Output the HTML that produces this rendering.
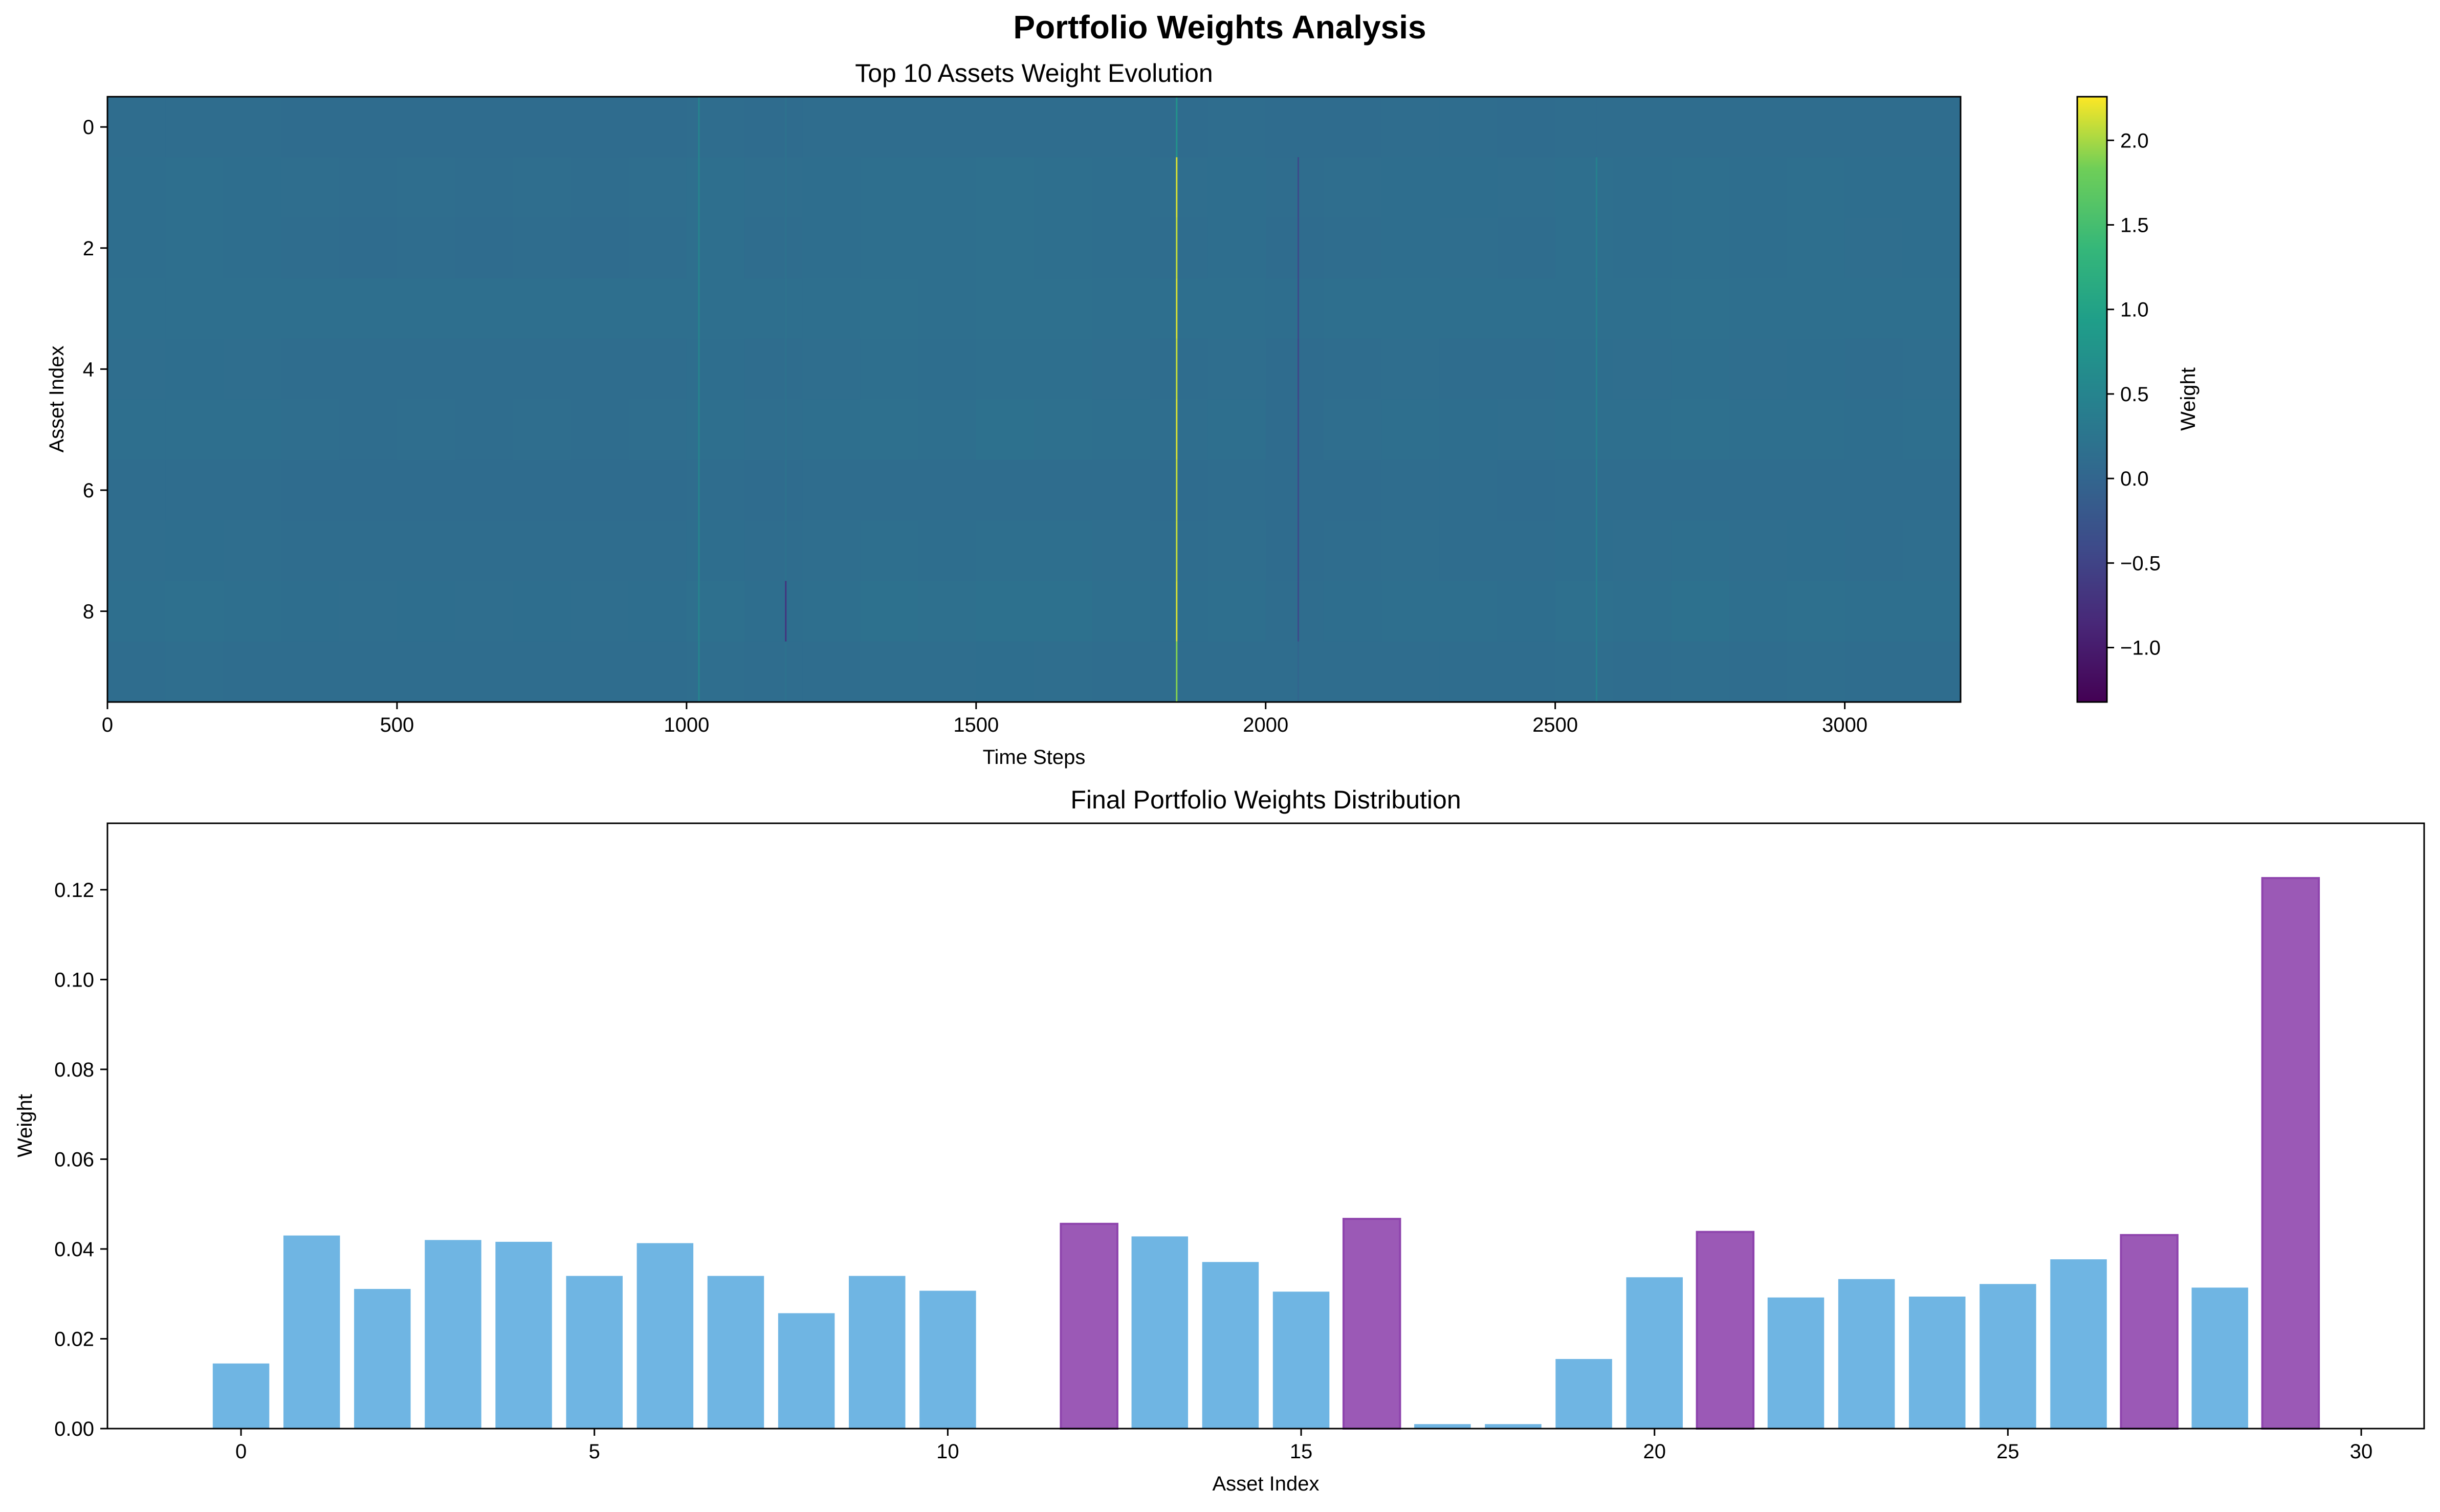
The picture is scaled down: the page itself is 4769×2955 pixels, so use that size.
<!DOCTYPE html>
<html><head><meta charset="utf-8"><style>
html,body{margin:0;padding:0;background:#fff;}
svg{display:block;font-family:"Liberation Sans",sans-serif;}
</style></head><body>
<svg id="fig" width="4769" height="2955" viewBox="0 0 4769 2955" xmlns="http://www.w3.org/2000/svg">
<defs><linearGradient id="vir" x1="0" y1="1" x2="0" y2="0">
<stop offset="0" stop-color="#440154"/><stop offset="0.13" stop-color="#482878"/><stop offset="0.25" stop-color="#3e4989"/><stop offset="0.38" stop-color="#31688e"/><stop offset="0.5" stop-color="#26828e"/><stop offset="0.63" stop-color="#1f9e89"/><stop offset="0.75" stop-color="#35b779"/><stop offset="0.88" stop-color="#6ece58"/><stop offset="1" stop-color="#fde725"/></linearGradient></defs>
<text x="2384" y="75" text-anchor="middle" font-size="64" font-weight="bold">Portfolio Weights Analysis</text>
<g id="topg"></g><g id="botg"></g>
</svg>
<script>
const NS="http://www.w3.org/2000/svg";
// ---- heatmap data ----
const nSteps=3200;
const rowBase=[0.11,0.13,0.12,0.15,0.12,0.13,0.11,0.12,0.14,0.12];
const blockOffsets=[0.02,0.03,0.02,0.0,-0.01,0.0,-0.01,0.0,-0.01,0.0,0.03,0.0,0.02,0.04,0.03,0.05,0.04,0.02,0.0,0.02,-0.02,0.0,0.02,0.01,0.0,0.03,0.02,0.04,0.02,0.03,0.01,0.02];
const spikeSteps=[1020,1170,1845,2055,2570];
const spikeVals=[
 [0.5,0.5,0.5,0.5,0.5,0.5,0.5,0.5,0.5,0.5],
 [0.2,0.2,0.2,0.2,0.2,0.2,0.2,0.2,-0.7,0.2],
 [0.75,2.15,2.1,2.15,2.1,2.15,2.1,2.1,2.15,1.9],
 [0.1,-0.4,-0.4,-0.4,-0.45,-0.4,-0.4,-0.4,-0.4,0.0],
 [0.1,0.45,0.45,0.45,0.45,0.45,0.45,0.45,0.45,0.45]];
const cbTicks=[-1.0,-0.5,0.0,0.5,1.0,1.5,2.0];
const xTicksTop=[0,500,1000,1500,2000,2500,3000];
// ---- bar data ----
const assets=[...Array(30).keys()];
const weights=[0.0145,0.0430,0.0311,0.0420,0.0416,0.0340,0.0413,0.0340,0.0257,0.0340,0.0307,0,0.0456,0.0428,0.0371,0.0305,0.0467,0.0010,0.0010,0.0155,0.0337,0.0438,0.0292,0.0333,0.0294,0.0322,0.0377,0.0431,0.0314,0.1226];
const highlighted=[12,16,21,27,29];
const yTicksBot=[0,0.02,0.04,0.06,0.08,0.10,0.12];
const xTicksBot=[0,5,10,15,20,25,30];

const vmin=-1.322,vmax=2.258;
const vs=[[68,1,84],[72,40,120],[62,73,137],[49,104,142],[38,130,142],[31,158,137],[53,183,121],[110,206,88],[253,231,37]];
const vo=[0,0.13,0.25,0.38,0.5,0.63,0.75,0.88,1];
function viridis(v){let t=Math.max(0,Math.min(1,(v-vmin)/(vmax-vmin)));
 for(let i=0;i<8;i++){if(t<=vo[i+1]){const f=(t-vo[i])/(vo[i+1]-vo[i]);const c=vs[i].map((a,k)=>Math.round(a+(vs[i+1][k]-a)*f));return `rgb(${c})`;}}return 'rgb(253,231,37)';}
function el(tag,attrs,parent,txt){const e=document.createElementNS(NS,tag);for(const k in attrs)e.setAttribute(k,attrs[k]);if(txt!==undefined)e.textContent=txt;parent.appendChild(e);return e;}

const gTop=document.getElementById('topg'),gBot=document.getElementById('botg');
const HX0=210,HX1=3832,HY0=189,HY1=1372;
const hx=t=>HX0+(t)/(nSteps)*(HX1-HX0);
const hy=r=>HY0+(r+0.5)/10*(HY1-HY0);
el('text',{x:2021,y:160,'text-anchor':'middle','font-size':50,},gTop,'Top 10 Assets Weight Evolution');
const blockW=100;
for(let r=0;r<10;r++){for(let b=0;b<blockOffsets.length;b++){
 const v=rowBase[r]+blockOffsets[b]*((r%3)+1)/3;
 const c=el('rect',{x:hx(b*blockW),y:hy(r-0.5),width:hx((b+1)*blockW)-hx(b*blockW)+0.6,height:hy(0.5)-hy(-0.5)+0.6,fill:viridis(v)},gTop);
 
 
}}
spikeSteps.forEach((s,i)=>{for(let r=0;r<10;r++){
 const c=el('rect',{x:hx(s),y:hy(r-0.5),width:Math.max(3,hx(s+1)-hx(s)),height:hy(0.5)-hy(-0.5),fill:viridis(spikeVals[i][r])},gTop);
 
 
}});
el('rect',{x:HX0,y:HY0,width:HX1-HX0,height:HY1-HY0,fill:'none',stroke:'#000','stroke-width':3,},gTop);
xTicksTop.forEach(t=>{const x=hx(t);
 el('line',{x1:x,x2:x,y1:HY1,y2:HY1+14,stroke:'#000','stroke-width':3},gTop);
 el('text',{x:x,y:HY1+58,'text-anchor':'middle','font-size':40,},gTop,String(t));});
for(let r=0;r<10;r+=2){const y=hy(r);
 el('line',{x1:HX0-14,x2:HX0,y1:y,y2:y,stroke:'#000','stroke-width':3},gTop);
 el('text',{x:HX0-26,y:y+14,'text-anchor':'end','font-size':40,},gTop,String(r));}
el('text',{x:2021,y:1493,'text-anchor':'middle','font-size':40,},gTop,'Time Steps');
el('text',{x:124,y:780,'text-anchor':'middle','font-size':40,transform:'rotate(-90 124 780)',},gTop,'Asset Index');
const CX0=4060,CX1=4118;
el('rect',{x:CX0,y:HY0,width:CX1-CX0,height:HY1-HY0,fill:'url(#vir)',stroke:'#000','stroke-width':3,},gTop);
const cy=v=>HY1-(v-vmin)/(vmax-vmin)*(HY1-HY0);
cbTicks.forEach(v=>{const y=cy(v);
 el('line',{x1:CX1,x2:CX1+14,y1:y,y2:y,stroke:'#000','stroke-width':3},gTop);
 el('text',{x:CX1+26,y:y+14,'font-size':40,},gTop,(v<0?'\u2212':'')+Math.abs(v).toFixed(1));});
el('text',{x:4290,y:780,'text-anchor':'middle','font-size':40,transform:'rotate(-90 4290 780)',},gTop,'Weight');

const BX0=210,BX1=4738,BY0=1609,BY1=2792;
const xmin=-1.89,xmax=30.89,ymax=0.1348;
const bx=v=>BX0+(v-xmin)/(xmax-xmin)*(BX1-BX0);
const by=v=>BY1-v/ymax*(BY1-BY0);
el('text',{x:2474,y:1580,'text-anchor':'middle','font-size':50,},gBot,'Final Portfolio Weights Distribution');
assets.forEach((a,i)=>{const w=weights[i];const hl=highlighted.includes(a);
 const b=el('rect',{x:bx(a-0.4),y:by(w),width:bx(0.8)-bx(0),height:Math.max(0,by(0)-by(w)),fill:hl?'#9b59b6':'#6fb5e3',stroke:hl?'#8e44ad':'none','stroke-width':hl?4:0},gBot);
 
 });
el('rect',{x:BX0,y:BY0,width:BX1-BX0,height:BY1-BY0,fill:'none',stroke:'#000','stroke-width':3,},gBot);
xTicksBot.forEach(t=>{const x=bx(t);
 el('line',{x1:x,x2:x,y1:BY1,y2:BY1+14,stroke:'#000','stroke-width':3},gBot);
 el('text',{x:x,y:BY1+58,'text-anchor':'middle','font-size':40,},gBot,String(t));});
yTicksBot.forEach(v=>{const y=by(v);
 el('line',{x1:BX0-14,x2:BX0,y1:y,y2:y,stroke:'#000','stroke-width':3},gBot);
 el('text',{x:BX0-26,y:y+14,'text-anchor':'end','font-size':40,},gBot,v.toFixed(2));});
el('text',{x:2474,y:2913,'text-anchor':'middle','font-size':40,},gBot,'Asset Index');
el('text',{x:62,y:2200,'text-anchor':'middle','font-size':40,transform:'rotate(-90 62 2200)',},gBot,'Weight');
</script>
</body></html>
